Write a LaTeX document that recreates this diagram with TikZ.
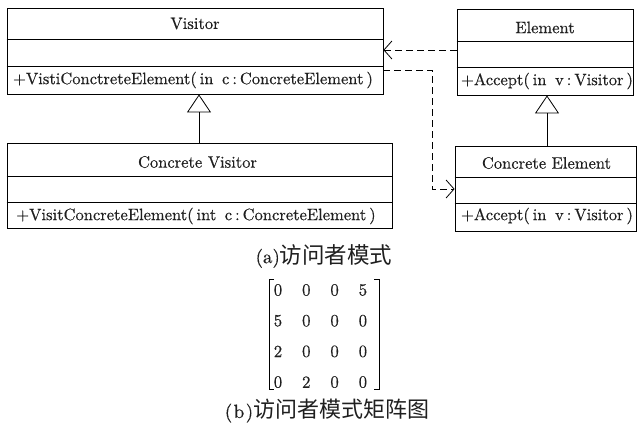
\documentclass[tikz,border=0pt]{standalone}
\usepackage{fontspec}
\newfontfamily\cjk{Noto Sans CJK SC}
\newfontfamily\umlfont{lmroman10-regular}[Extension=.otf, FakeBold=0.4]
\usetikzlibrary{arrows.meta}

% spaced punctuation for the operation signatures
\newcommand\umlLP{(\hspace{3pt}}
\newcommand\umlRP{\hspace{3pt})}
\newcommand\umlCL{\hspace{3pt}:\hspace{3pt}}
\newcommand\umlSP{\hspace{8.5pt}}

\tikzset{
  classbox/.style={draw=black, line width=0.8pt, inner sep=0pt},
  divider/.style={draw=black, line width=0.8pt},
  umltext/.style={inner sep=0pt, text=black!88, font=\umlfont\fontsize{16.5}{18}\selectfont},
  cell/.style={inner sep=0pt, text=black!88, font=\umlfont\fontsize{17}{18}\selectfont},
  caption/.style={inner sep=0pt, text=black!88, font=\umlfont\fontsize{19}{22}\selectfont},
  dep/.style={draw=black, line width=0.8pt, dash pattern=on 7pt off 4pt,
    -{Straight Barb[length=8pt,width=18pt,line width=0.8pt]}},
  inherit/.style={draw=black, line width=0.8pt,
    -{Triangle[open,length=18pt,width=24pt,line width=0.8pt]}},
  bracket/.style={draw=black, line width=0.8pt}
}

\begin{document}
\begin{tikzpicture}[x=1pt,y=-1pt]
\useasboundingbox (0,0) rectangle (638,424);

% Visitor class
\node[classbox, minimum width=376pt, minimum height=86pt] (visitor) at (195,51) {};
\draw[divider] (visitor.west |- 0,39) -- (visitor.east |- 0,39);
\draw[divider] (visitor.west |- 0,66) -- (visitor.east |- 0,66);
\node[umltext] (visitorname) at (195,23.5) {Visitor};
\node[umltext] (visitorop) at (193,80) {+VistiConctreteElement\umlLP in\umlSP c\umlCL ConcreteElement\umlRP};

% Concrete Visitor class
\node[classbox, minimum width=385pt, minimum height=85pt] (cvisitor) at (199.5,185.5) {};
\draw[divider] (cvisitor.west |- 0,176) -- (cvisitor.east |- 0,176);
\draw[divider] (cvisitor.west |- 0,202) -- (cvisitor.east |- 0,202);
\node[umltext] (cvisitorname) at (197.5,162) {Concrete Visitor};
\node[umltext] (cvisitorop) at (196,216) {+VisitConcreteElement\umlLP int\umlSP c\umlCL ConcreteElement\umlRP};

% Element class
\node[classbox, minimum width=176pt, minimum height=86pt] (element) at (545,52) {};
\draw[divider] (element.west |- 0,41) -- (element.east |- 0,41);
\draw[divider] (element.west |- 0,67) -- (element.east |- 0,67);
\node[umltext] (elementname) at (545,27.5) {Element};
\node[umltext] (elementop) at (547,81) {+Accept\umlLP in\umlSP v\umlCL Visitor\umlRP};

% Concrete Element class
\node[classbox, minimum width=181pt, minimum height=85pt] (celement) at (545.5,188.5) {};
\draw[divider] (celement.west |- 0,177) -- (celement.east |- 0,177);
\draw[divider] (celement.west |- 0,203) -- (celement.east |- 0,203);
\node[umltext] (celementname) at (546.5,163) {Concrete Element};
\node[umltext] (celementop) at (547,216) {+Accept\umlLP in\umlSP v\umlCL Visitor\umlRP};

% Generalisations
\draw[inherit] (cvisitor.north -| 199,0) -- (visitor.south -| 199,0);
\draw[inherit] (celement.north -| 547,0) -- (element.south -| 547,0);

% Dependencies
\draw[dep] (element.west |- 0,50) -- (visitor.east |- 0,50);
\draw[dep] (visitor.east |- 0,70) -- (432,70) -- (432,189) -- (celement.west |- 0,189);

% Caption (a)
\node[caption] (capa) at (324,256) {(a){\cjk\fontsize{22.5}{24}\selectfont 访问者模式}};

% Matrix
\foreach \row [count=\i] in {{0,0,0,5},{5,0,0,0},{2,0,0,0},{0,2,0,0}} {
  \foreach \v [count=\j] in \row {
    \node[cell] (m\i\j) at ({249.7+28.3*\j},{259.3+30.7*\i}) {\v};
  }
}
\draw[bracket] (274,279) -- (269,279) -- (269,389) -- (274,389);
\draw[bracket] (374,279) -- (379,279) -- (379,389) -- (374,389);

% Caption (b)
\node[caption] (capb) at (327,411) {(\hspace{1.5pt}b\hspace{1.5pt}){\cjk\fontsize{22}{24}\selectfont 访问者模式矩阵图}};
\end{tikzpicture}
\end{document}
